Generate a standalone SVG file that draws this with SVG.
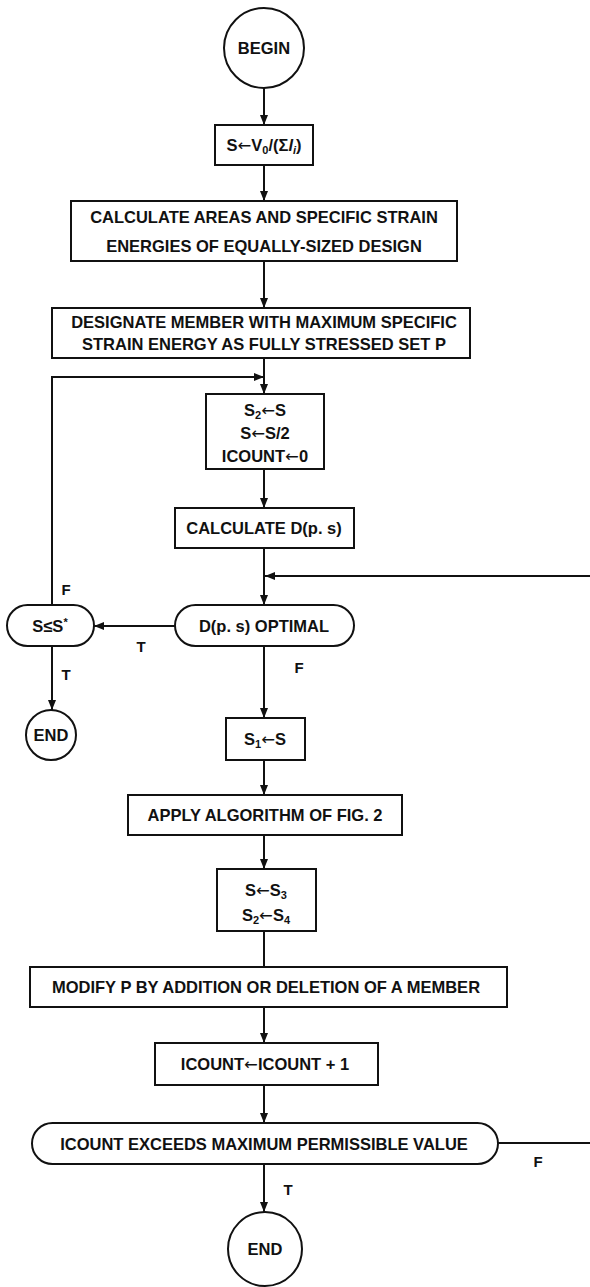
<svg xmlns="http://www.w3.org/2000/svg" width="590" height="1287" viewBox="0 0 590 1287">
<defs>
<marker id="ah" viewBox="0 0 10 10" refX="10" refY="5" markerWidth="10" markerHeight="10" markerUnits="userSpaceOnUse" orient="auto">
<path d="M0,1 L10,5 L0,9 Z" fill="#111"/>
</marker>
<style>
.box{fill:#fff;stroke:#111;stroke-width:2}
.t{font-family:"Liberation Sans",Arial,sans-serif;font-weight:bold;font-size:16.5px;fill:#111;text-anchor:middle}
.lbl{font-family:"Liberation Sans",Arial,sans-serif;font-weight:bold;font-size:15px;fill:#111;text-anchor:middle}
.sub{font-size:11px}
.ar{font-family:"DejaVu Sans",sans-serif;font-weight:normal}
.c{fill:none;stroke:#111;stroke-width:2}
.ca{fill:none;stroke:#111;stroke-width:2;marker-end:url(#ah)}
</style>
</defs>
<rect width="590" height="1287" fill="#fff"/>
<g id="connectors">
<path class="ca" d="M264,88 V125"/>
<path class="ca" d="M264,165 V201"/>
<path class="ca" d="M264,261 V308"/>
<path class="ca" d="M264,358 V394"/>
<path class="ca" d="M52,605 V377 H264"/>
<path class="ca" d="M264,469 V508"/>
<path class="ca" d="M264,548 V605"/>
<path class="ca" d="M598,1143 V576 H265"/>
<path class="ca" d="M175,626 H94"/>
<path class="ca" d="M52,646 V710"/>
<path class="ca" d="M264,646 V718"/>
<path class="ca" d="M264,760 V795"/>
<path class="ca" d="M264,835 V869"/>
<path class="c" d="M264,931 V967"/>
<path class="ca" d="M264,1007 V1043"/>
<path class="ca" d="M264,1085 V1123"/>
<path class="ca" d="M264,1164 V1212"/>
<path class="c" d="M498,1143 H598"/>
<text class="lbl" x="66" y="595">F</text>
<text class="lbl" x="66" y="680">T</text>
<text class="lbl" x="141" y="652">T</text>
<text class="lbl" x="299" y="673">F</text>
<text class="lbl" x="288" y="1195">T</text>
<text class="lbl" x="538" y="1167">F</text>
</g>
<g id="begin">
<circle class="box" cx="264" cy="48" r="40"/>
<text class="t" x="264" y="54">BEGIN</text>
</g>
<g id="init">
<rect class="box" x="215" y="125" width="98" height="40"/>
<text class="t" x="264" y="151">S<tspan class="ar">←</tspan>V<tspan class="sub" dy="3">0</tspan><tspan dy="-3">/(Σ</tspan><tspan font-style="italic">l</tspan><tspan class="sub" dy="3" font-style="italic">i</tspan><tspan dy="-3">)</tspan></text>
</g>
<g id="calcAreas">
<rect class="box" x="71" y="201" width="386" height="60"/>
<text class="t" x="264" y="223">CALCULATE AREAS AND SPECIFIC STRAIN</text>
<text class="t" x="264" y="252">ENERGIES OF EQUALLY-SIZED DESIGN</text>
</g>
<g id="designate">
<rect class="box" x="52" y="308" width="418" height="50"/>
<text class="t" x="264" y="328">DESIGNATE MEMBER WITH MAXIMUM SPECIFIC</text>
<text class="t" x="264" y="350">STRAIN ENERGY AS FULLY STRESSED SET P</text>
</g>
<g id="halve">
<rect class="box" x="206" y="394" width="118" height="75"/>
<text class="t" x="265" y="416">S<tspan class="sub" dy="3">2</tspan><tspan class="ar" dy="-3">←</tspan>S</text>
<text class="t" x="265" y="439">S<tspan class="ar">←</tspan>S/2</text>
<text class="t" x="265" y="462">ICOUNT<tspan class="ar">←</tspan>0</text>
</g>
<g id="calcD">
<rect class="box" x="175" y="508" width="179" height="40"/>
<text class="t" x="264" y="534">CALCULATE D(p. s)</text>
</g>
<g id="optimal">
<rect class="box" x="175" y="605" width="179" height="41" rx="20.5"/>
<text class="t" x="264" y="632">D(p. s) OPTIMAL</text>
</g>
<g id="sLeq">
<rect class="box" x="7" y="605" width="87" height="41" rx="20.5"/>
<text class="t" x="50" y="632">S≤S<tspan class="sub" dy="-6">*</tspan></text>
</g>
<g id="end1">
<circle class="box" cx="51" cy="735" r="25"/>
<text class="t" x="51" y="741">END</text>
</g>
<g id="s1">
<rect class="box" x="226" y="718" width="79" height="42"/>
<text class="t" x="265" y="745">S<tspan class="sub" dy="3">1</tspan><tspan class="ar" dy="-3">←</tspan>S</text>
</g>
<g id="apply">
<rect class="box" x="128" y="795" width="274" height="40"/>
<text class="t" x="265" y="821">APPLY ALGORITHM OF FIG. 2</text>
</g>
<g id="update">
<rect class="box" x="217" y="869" width="99" height="62"/>
<text class="t" x="266" y="896">S<tspan class="ar">←</tspan>S<tspan class="sub" dy="3">3</tspan></text>
<text class="t" x="266" y="921">S<tspan class="sub" dy="3">2</tspan><tspan class="ar" dy="-3">←</tspan>S<tspan class="sub" dy="3">4</tspan></text>
</g>
<g id="modify">
<rect class="box" x="30" y="967" width="477" height="40"/>
<text class="t" x="266" y="993">MODIFY P BY ADDITION OR DELETION OF A MEMBER</text>
</g>
<g id="increment">
<rect class="box" x="155" y="1043" width="223" height="42"/>
<text class="t" x="265" y="1070">ICOUNT<tspan class="ar">←</tspan>ICOUNT + 1</text>
</g>
<g id="exceeds">
<rect class="box" x="32" y="1123" width="466" height="41" rx="20.5"/>
<text class="t" x="264" y="1150">ICOUNT EXCEEDS MAXIMUM PERMISSIBLE VALUE</text>
</g>
<g id="end2">
<circle class="box" cx="265" cy="1249" r="37"/>
<text class="t" x="265" y="1255">END</text>
</g>
</svg>
